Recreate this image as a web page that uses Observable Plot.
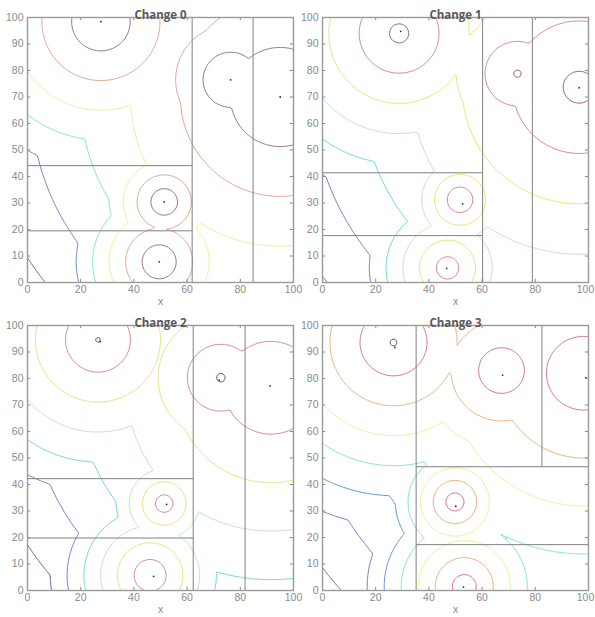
<!DOCTYPE html>
<html><head><meta charset="utf-8">
<script src="https://cdn.jsdelivr.net/npm/d3@7"></script>
<script src="https://cdn.jsdelivr.net/npm/@observablehq/plot@0.6"></script>
<style>
body{margin:0;background:#fff}
#wrap{position:relative;width:595px;height:617px;overflow:hidden;background:#fff}
#wrap svg{position:absolute;overflow:visible}
</style></head><body><div id="wrap"></div>
<script>
const titles = ["Change 0", "Change 1", "Change 2", "Change 3"];
const xTicks = [0, 20, 40, 60, 80, 100];
const yTicks = [0, 10, 20, 30, 40, 50, 60, 70, 80, 90, 100];

// field sources: centre, radius of contour level 1, spacing between levels
const src0 = [
  {x: 27.6, y: 98.4, r1: 11.0, step: 11.2},
  {x: 51.4, y: 30.4, r1: 5.0, step: 5.2},
  {x: 49.5, y: 7.8, r1: 6.4, step: 6.2},
  {x: 76.4, y: 76.5, r1: 10.4, step: 10.3},
  {x: 95.0, y: 70.0, r1: 18.7, step: 18.8}
];
const src1 = [
  {x: 28.8, y: 94.0, r1: 3.6, step: 11.4},
  {x: 51.7, y: 31.2, r1: 0.0, step: 4.8},
  {x: 47.0, y: 5.5, r1: -2.1, step: 6.3},
  {x: 73.3, y: 78.8, r1: 1.4, step: 10.8},
  {x: 96.5, y: 73.7, r1: 6.0, step: 19.0}
];
const src2 = [
  {x: 26.5, y: 94.6, r1: 0.9, step: 11.3},
  {x: 51.4, y: 32.8, r1: -1.6, step: 4.9},
  {x: 46.1, y: 5.7, r1: -0.3, step: 6.3},
  {x: 72.7, y: 80.3, r1: 1.6, step: 11.0},
  {x: 91.5, y: 76.5, r1: -0.8, step: 18.3}
];
const src3 = [
  {x: 26.7, y: 93.6, r1: 1.3, step: 11.3},
  {x: 49.8, y: 33.4, r1: -1.35, step: 4.75},
  {x: 53.3, y: 1.5, r1: -1.9, step: 6.4},
  {x: 67.3, y: 83.0, r1: -1.8, step: 10.4},
  {x: 98.1, y: 82.0, r1: -4.2, step: 18.1}
];

// sample points
const dots0 = [{x: 27.6, y: 98.4}, {x: 51.4, y: 30.4}, {x: 49.5, y: 7.8}, {x: 76.4, y: 76.5}, {x: 95.0, y: 70.0}];
const dots1 = [{x: 29.4, y: 94.8}, {x: 52.7, y: 29.7}, {x: 46.7, y: 5.3}, {x: 96.5, y: 73.5}];
const dots2 = [{x: 27.3, y: 93.9}, {x: 52.3, y: 32.5}, {x: 47.4, y: 5.3}, {x: 72.1, y: 79.4}, {x: 91.2, y: 77.2}];
const dots3 = [{x: 27.2, y: 91.7}, {x: 67.7, y: 81.3}, {x: 99.0, y: 80.3}, {x: 50.1, y: 31.8}, {x: 53.0, y: 1.3}];

// partition boundaries
const splits0 = [
  {x1: 61.9, y1: 0, x2: 61.9, y2: 100}, {x1: 84.8, y1: 0, x2: 84.8, y2: 100},
  {x1: 0, y1: 44.1, x2: 61.9, y2: 44.1}, {x1: 0, y1: 19.5, x2: 61.9, y2: 19.5}
];
const splits1 = [
  {x1: 60.2, y1: 0, x2: 60.2, y2: 100}, {x1: 78.9, y1: 0, x2: 78.9, y2: 100},
  {x1: 0, y1: 41.4, x2: 60.2, y2: 41.4}, {x1: 0, y1: 17.7, x2: 60.2, y2: 17.7}
];
const splits2 = [
  {x1: 62.3, y1: 0, x2: 62.3, y2: 100}, {x1: 81.8, y1: 0, x2: 81.8, y2: 100},
  {x1: 0, y1: 42.2, x2: 62.3, y2: 42.2}, {x1: 0, y1: 19.8, x2: 62.3, y2: 19.8}
];
const splits3 = [
  {x1: 35.2, y1: 0, x2: 35.2, y2: 100}, {x1: 82.5, y1: 46.7, x2: 82.5, y2: 100},
  {x1: 35.2, y1: 46.7, x2: 100, y2: 46.7}, {x1: 35.2, y1: 17.3, x2: 100, y2: 17.3}
];

// contour level colours (level 1 = innermost)
const colors0 = ["#9c6f80", "#e3a48e", "#eeee9c", "#86dede", "#7886c6", "#5f6880"];
const colors1 = ["#9c5f78", "#d98494", "#e9e27c", "#bfe6bc", "#74d2de", "#6e7ec6", "#5a6690"];
const colors2 = ["#6e5560", "#d98494", "#e9e27c", "#bfe6bc", "#74d2de", "#6e7ec6", "#5a6690"];
const colors3 = ["#6e5560", "#d8728a", "#e8b27e", "#eeee9a", "#86e0da", "#6292cc", "#7878b6", "#707084"];

const panels = [
  {title: titles[0], src: src0, dots: dots0, splits: splits0, colors: colors0, left: 0, top: 0, edge: false},
  {title: titles[1], src: src1, dots: dots1, splits: splits1, colors: colors1, left: 295, top: 0, edge: true},
  {title: titles[2], src: src2, dots: dots2, splits: splits2, colors: colors2, left: 0, top: 308, edge: false},
  {title: titles[3], src: src3, dots: dots3, splits: splits3, colors: colors3, left: 295, top: 308, edge: true}
];

const wrap = document.getElementById("wrap");
const axisGray = "#8a8a8a";

for (const p of panels) {
  const srcs = p.src;
  const field = (x, y) => {
    let m = Infinity;
    for (const s of srcs) {
      const v = 1 + (Math.hypot(x - s.x, y - s.y) - s.r1) / s.step;
      if (v < m) m = v;
    }
    return m;
  };
  const contours = p.colors.map((c, k) => Plot.contour({
    value: field, x1: -3, x2: 103, y1: -3, y2: 103,
    thresholds: [k + 1], fill: "none", stroke: c, strokeWidth: 1, clip: true
  }));
  const xAxes = p.edge
    ? [Plot.axisX(xTicks.slice(0, -1), {tickSize: 0, tickPadding: 3, label: null, fontSize: 10.5}),
       Plot.axisX(xTicks.slice(-1), {tickSize: 0, tickPadding: 3, label: null, fontSize: 10.5, dx: -3})]
    : [Plot.axisX(xTicks, {tickSize: 0, tickPadding: 3, label: null, fontSize: 10.5})];
  const chart = Plot.plot({
    width: 296, height: 308,
    marginLeft: 27, marginRight: 3, marginTop: 17, marginBottom: 26,
    style: {color: axisGray, fontFamily: "Liberation Sans, Arial, sans-serif", fontSize: "10px", background: "transparent", overflow: "visible"},
    x: {domain: [0, 100]},
    y: {domain: [0, 100]},
    marks: [
      ...contours,
      Plot.link(p.splits, {x1: "x1", y1: "y1", x2: "x2", y2: "y2", stroke: "#808080", strokeWidth: 1}),
      Plot.dot(p.dots, {x: "x", y: "y", r: 0.9, fill: "#333", stroke: null}),
      // inward ticks on all four sides
      Plot.ruleX(xTicks.slice(1, -1), {y1: 0, y2: 1.2, stroke: axisGray}),
      Plot.ruleX(xTicks.slice(1, -1), {y1: 98.8, y2: 100, stroke: axisGray}),
      Plot.ruleY(yTicks.slice(1, -1), {x1: 0, x2: 1.2, stroke: axisGray}),
      Plot.ruleY(yTicks.slice(1, -1), {x1: 98.8, x2: 100, stroke: axisGray}),
      Plot.frame({stroke: "#9a9a9a", strokeWidth: 1.4}),
      ...xAxes,
      Plot.axisY(yTicks, {tickSize: 0, tickPadding: 4, label: null, fontSize: 10.5}),
      Plot.text([p.title], {frameAnchor: "top", dy: -7, fill: "#5a5a5a", fontWeight: "bold", fontSize: 11.5, fontFamily: "Open Sans, sans-serif"}),
      Plot.text(["x"], {frameAnchor: "bottom", dy: 22, fill: "#8a8a8a", fontSize: 10.5})
    ]
  });
  chart.style.left = p.left + "px";
  chart.style.top = p.top + "px";
  chart.style.overflow = "visible";
  wrap.appendChild(chart);
}
</script>
</body></html>
